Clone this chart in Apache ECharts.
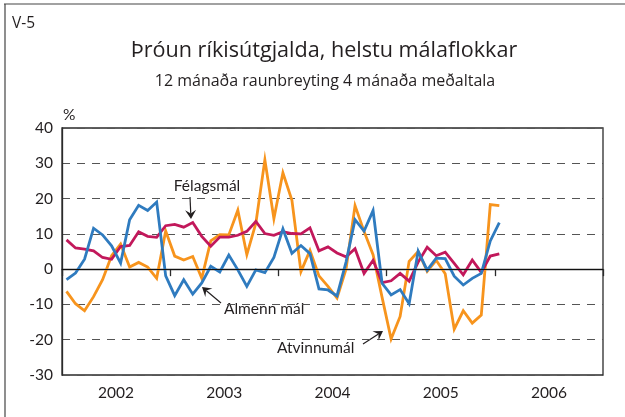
<!DOCTYPE html>
<html>
<head>
<meta charset="utf-8">
<script src="https://cdn.jsdelivr.net/npm/echarts@6/dist/echarts.min.js"></script>
<style>
  html, body { margin: 0; padding: 0; background: #fff; }
  #chart { width: 625px; height: 417px; }
</style>
</head>
<body>
<div id="chart"></div>
<script>
// Monthly observations, January 2002 - January 2006 (49 months)
const years = ['2002', '2003', '2004', '2005', '2006'];
const yTicks = [-30, -20, -10, 0, 10, 20, 30, 40];

const almennMal = [
  -3.0, -1.1, 2.8, 11.6, 9.7, 6.6, 1.7, 14.0, 18.1, 16.6, 19.0, -1.9,
  -7.5, -3.0, -7.1, -3.9, 0.8, -0.8, 4.0, -0.2, -4.9, -0.2, -1.0, 3.3,
  11.4, 4.5, 6.7, 4.4, -5.6, -5.9, -7.6, 2.0, 14.0, 10.8, 16.6, -4.0,
  -7.3, -5.8, -9.8, 5.1, -0.3, 3.1, 3.0, -2.0, -4.5, -2.6, -1.2, 8.0,
  13.2
];
const atvinnumal = [
  -6.3, -9.8, -11.8, -7.8, -3.0, 3.8, 7.1, 0.6, 1.9, 0.6, -2.6, 10.8,
  3.7, 2.6, 3.6, -2.6, 8.0, 9.8, 9.7, 16.7, 4.1, 13.0, 31.0, 14.3,
  27.3, 19.5, -0.7, 5.3, -1.9, -4.9, -8.2, 0.0, 18.0, 10.7, 4.1, -8.0,
  -19.8, -13.4, 2.2, 5.0, -0.6, 2.5, -1.3, -17.0, -11.8, -15.3, -13.0, 18.3,
  18.0
];
const felagsmal = [
  8.3, 6.0, 5.7, 5.2, 3.3, 2.8, 6.4, 6.7, 10.6, 9.3, 9.0, 12.3,
  12.7, 11.9, 13.2, 9.3, 6.5, 9.1, 9.1, 9.6, 10.7, 13.5, 10.1, 9.6,
  10.6, 10.1, 10.0, 11.7, 5.2, 6.3, 4.6, 3.5, 5.8, -1.2, 2.5, -3.8,
  -3.3, -1.2, -3.4, 2.0, 6.2, 3.8, 4.8, 1.6, -1.6, 2.6, -0.9, 3.7,
  4.3
];

const FONT = 'Lato, "Open Sans", sans-serif';
const TITLE_FONT = '"Open Sans", Lato, sans-serif';
const TEXT = '#231f20';

// place each monthly value at the middle of its month on a 0..60 month scale
const toPoints = arr => arr.map((v, i) => [i + 0.5, v]);

// small annotation arrow: shaft plus a filled dart-shaped head at (x2, y2)
function arrow(x1, y1, x2, y2) {
  const a = Math.atan2(y2 - y1, x2 - x1);
  const L = 9, W = 5.5;
  const bx = x2 - L * Math.cos(a), by = y2 - L * Math.sin(a);
  const nx = -Math.sin(a), ny = Math.cos(a);
  const mx = x2 - 0.6 * L * Math.cos(a), my = y2 - 0.6 * L * Math.sin(a);
  return [
    { type: 'line', silent: true,
      shape: { x1: x1, y1: y1, x2: mx, y2: my },
      style: { stroke: TEXT, lineWidth: 1.2 } },
    { type: 'polygon', silent: true,
      shape: { points: [[x2, y2], [bx + nx * W, by + ny * W], [mx, my], [bx - nx * W, by - ny * W]] },
      style: { fill: TEXT } }
  ];
}

function label(text, x, y, size, align, family) {
  return { type: 'text', silent: true, x: x, y: y,
    style: { text: text, fill: TEXT, font: size + 'px ' + (family || FONT),
      textAlign: align || 'left', textVerticalAlign: 'middle' } };
}

const chart = echarts.init(document.getElementById('chart'), null, { renderer: 'canvas' });

const lineSeries = (name, data, color) => ({
  name: name, type: 'line', data: toPoints(data), showSymbol: false,
  symbol: 'none', smooth: false, animation: false,
  lineStyle: { color: color, width: 2.8, join: 'miter' },
  itemStyle: { color: color }
});

chart.setOption({
  backgroundColor: '#fff',
  animation: false,
  grid: { left: 62, top: 128, width: 541, height: 247, show: true,
    borderColor: '#2b2b2b', borderWidth: 1.3, backgroundColor: 'transparent' },
  xAxis: [
    { type: 'value', min: 0, max: 60, interval: 12,
      axisLine: { show: true, lineStyle: { color: '#2b2b2b', width: 1.3 } },
      axisTick: { show: true, inside: false, length: 7, lineStyle: { color: '#2b2b2b', width: 1.3 } },
      axisLabel: { show: false }, splitLine: { show: false } },
    { type: 'category', data: years, position: 'bottom', boundaryGap: true,
      axisLine: { show: false }, axisTick: { show: false }, splitLine: { show: false },
      axisLabel: { color: TEXT, fontSize: 15.5, fontFamily: FONT, margin: 10 } }
  ],
  yAxis: {
    type: 'value', min: yTicks[0], max: yTicks[yTicks.length - 1], interval: 10,
    axisLine: { show: true, lineStyle: { color: '#2b2b2b', width: 1.3 } },
    axisTick: { show: false },
    axisLabel: { color: TEXT, fontSize: 15.5, fontFamily: FONT, margin: 9 },
    splitLine: { show: true, lineStyle: { color: '#555', width: 1.2, type: [8, 7] } }
  },
  series: [
    Object.assign(lineSeries('Atvinnumál', atvinnumal, '#f7941d'), {
      markLine: { silent: true, symbol: 'none', animation: false,
        label: { show: false },
        lineStyle: { color: '#111', width: 1.2, type: 'solid' },
        data: [{ yAxis: 0 }] },
      z: 2 }),
    Object.assign(lineSeries('Félagsmál', felagsmal, '#c2185b'), { z: 3 }),
    Object.assign(lineSeries('Almenn mál', almennMal, '#2f7bbf'), { z: 4 })
  ],
  graphic: [
    // page frame (top and left edges)
    { type: 'line', silent: true, shape: { x1: 4, y1: 4, x2: 625, y2: 4 },
      style: { stroke: '#444', lineWidth: 1.2 } },
    { type: 'line', silent: true, shape: { x1: 5, y1: 4, x2: 5, y2: 417 },
      style: { stroke: '#444', lineWidth: 1.2 } },
    label('V-5', 12, 24, 15.5, 'left', TITLE_FONT),
    label('Þróun ríkisútgjalda, helstu málaflokkar', 324, 51, 21.6, 'center', TITLE_FONT),
    label('12 mánaða raunbreyting 4 mánaða meðaltala', 325, 81, 16, 'center', TITLE_FONT),
    label('%', 63, 115, 15.5),
    label('Félagsmál', 207, 186, 15.5, 'center'),
    label('Almenn mál', 224, 309, 15.5),
    label('Atvinnumál', 277, 348, 15.5)
  ].concat(arrow(190, 197, 191, 219))
   .concat(arrow(221, 303, 202, 287))
   .concat(arrow(363, 344, 383, 331))
});
</script>
</body>
</html>
